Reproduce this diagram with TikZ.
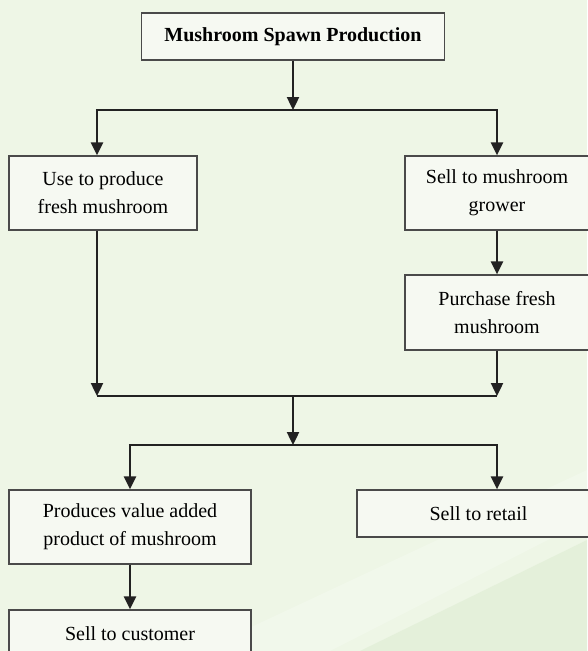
\documentclass[tikz,border=0pt]{standalone}
\usepackage{fontspec}
\setmainfont{Liberation Serif}
\usetikzlibrary{arrows.meta}
\definecolor{bgcol}{HTML}{EEF6E6}
\definecolor{bgdark}{HTML}{E2EFD7}
\definecolor{bglight}{HTML}{F3F9EE}
\definecolor{boxfill}{HTML}{F6F9F2}
\definecolor{boxline}{HTML}{4A4A4A}
\definecolor{conn}{HTML}{222222}
\tikzset{
  box/.style={draw=boxline, fill=boxfill, line width=1.2pt, rectangle, inner sep=0pt,
    align=center, font=\fontsize{20}{28}\selectfont},
  link/.style={draw=conn, line width=2.4pt},
  flow/.style={link, -{Triangle[width=12pt,length=13pt]}}
}
\begin{document}
\begin{tikzpicture}[x=1pt,y=-1pt]
\useasboundingbox (0,0) rectangle (587,651);
\fill[bgcol] (0,0) rectangle (587,651);
\fill[bglight, opacity=0.7] (200,651) -- (587,470) -- (587,520) -- (330,651) -- cycle;
\fill[bgdark, opacity=0.8] (360,651) -- (587,540) -- (587,651) -- cycle;

\node[box, minimum width=303pt, minimum height=47pt] (top) at (293,36.5) {\textbf{Mushroom Spawn Production}};
\node[box, minimum width=188pt, minimum height=74pt] (use) at (103,193) {Use to produce\\fresh mushroom};
\node[box, minimum width=184pt, minimum height=74pt] (grower) at (497,193) {Sell to mushroom\\grower};
\node[box, minimum width=184pt, minimum height=75pt] (purchase) at (497,312.5) {Purchase fresh\\mushroom};
\node[box, minimum width=242pt, minimum height=74pt] (value) at (130,527) {Produces value added\\product of mushroom};
\node[box, minimum width=243pt, minimum height=47pt] (retail) at (478.5,513.5) {Sell to retail};
\node[box, minimum width=242pt, minimum height=47pt] (customer) at (130,633.5) {Sell to customer};

\coordinate (s1C) at (293,110);
\coordinate (s1L) at (97,110);
\coordinate (s1R) at (497,110);
\coordinate (mL) at (97,396);
\coordinate (mR) at (497,396);
\coordinate (mC) at (293,396);
\coordinate (s2C) at (293,445);
\coordinate (s2L) at (130,445);
\coordinate (s2R) at (497,445);

\draw[flow] (top.south) -- (s1C);
\draw[link] ([xshift=-1.2pt]s1L) -- ([xshift=1.2pt]s1R);
\draw[flow] (s1L) -- (s1L |- use.north);
\draw[flow] (s1R) -- (grower.north);
\draw[flow] (grower.south) -- (purchase.north);
\draw[flow] (s1L |- use.south) -- (mL);
\draw[flow] (purchase.south) -- (mR);
\draw[link] (mL) -- (mR);
\draw[flow] (mC) -- (s2C);
\draw[link] ([xshift=-1.2pt]s2L) -- ([xshift=1.2pt]s2R);
\draw[flow] (s2L) -- (value.north);
\draw[flow] (s2R) -- (s2R |- retail.north);
\draw[flow] (value.south) -- (customer.north);
\end{tikzpicture}
\end{document}
